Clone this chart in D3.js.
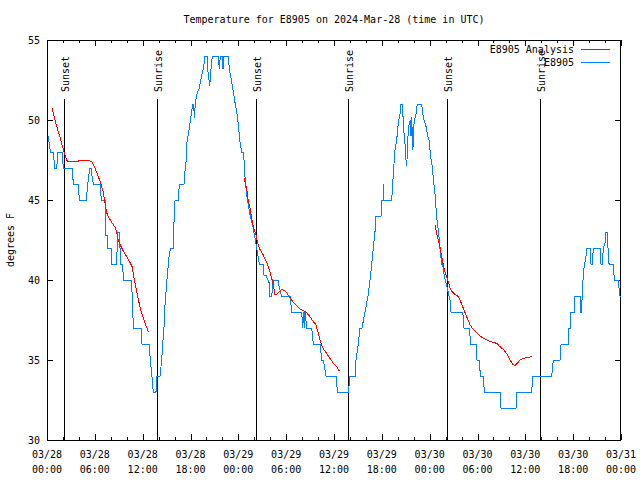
<!DOCTYPE html>
<html><head><meta charset="utf-8">
<script src="https://cdn.jsdelivr.net/npm/d3@7"></script>
<style>
body{margin:0;background:#fff;}
text{font-family:"DejaVu Sans Mono","Liberation Mono",monospace;font-size:10px;fill:#000;}
</style></head><body>
<svg id="chart" width="640" height="480"></svg>
<script>
// ---- data (hours since 03/28 00:00 UTC) ----
const obsHours = [0.16,0.34,0.46,0.84,0.92,1.22,1.38,1.92,2.04,3.17,3.30,3.93,4.05,4.93,5.11,5.36,5.61,5.64,5.81,6.65,6.81,7.28,7.40,7.56,7.65,8.03,8.12,8.69,8.78,8.91,9.03,9.16,9.28,9.45,9.62,10.54,10.70,10.83,11.79,11.92,12.79,12.96,13.13,13.33,13.67,13.80,14.17,14.39,14.51,14.71,14.80,15.09,15.34,15.52,15.81,15.93,16.06,16.47,16.60,17.19,17.31,17.44,17.56,17.94,18.28,18.40,18.48,18.60,18.78,19.10,19.41,19.61,19.82,20.07,20.20,20.41,20.57,20.74,21.49,21.61,21.74,21.95,22.08,22.20,22.74,22.87,23.08,23.29,23.58,23.80,24.00,24.21,24.42,24.62,24.71,24.84,25.05,25.25,25.46,25.80,26.09,26.30,26.63,27.13,27.22,27.47,27.89,27.97,28.19,28.39,29.01,29.14,29.44,30.48,30.70,31.95,32.08,32.15,32.28,32.36,32.58,33.20,33.41,34.25,34.46,34.66,35.00,36.25,36.44,37.80,38.01,38.64,38.76,39.05,39.26,39.51,39.89,40.27,40.52,40.73,40.93,41.14,41.27,41.90,41.99,42.15,42.19,42.27,43.24,43.36,43.53,43.65,43.87,44.07,44.28,44.41,44.53,44.66,44.78,44.91,45.03,45.12,45.20,45.32,45.45,45.57,45.66,45.75,45.87,45.95,46.04,46.29,46.45,47.00,47.13,47.29,47.54,47.71,47.92,48.13,48.33,48.46,48.67,48.80,48.96,49.09,49.21,49.30,49.51,49.71,49.84,50.05,50.34,50.55,50.68,52.15,52.31,52.97,53.15,53.81,53.94,54.19,54.38,54.69,54.88,56.82,56.95,58.83,58.92,60.80,60.93,63.31,63.51,64.35,64.48,65.39,65.48,65.69,65.73,66.14,66.23,66.86,66.95,67.07,67.15,67.27,67.40,67.58,67.70,68.11,68.24,68.40,68.53,69.37,69.49,69.66,69.78,70.00,70.12,70.25,70.41,70.50,71.04,71.16,71.67,71.75,71.88,72.00];
const obsTemps = [49,48.3,48,48,47,47,48,48,47,47,46,46,45,45,46,47,47,46.5,46,46,45,45,42.8,42.8,42,42,41,41,41.7,43,43,42,41,41,40,40,39,37,37,36,36,35,34.2,33,33,34,34,35,36,37.3,38.4,40.3,41.6,42,42,43.6,45,45,46,46,46.8,47.4,48.6,49.8,51,51,50.1,51,51.6,52,52.8,53.2,54,54,53,52.1,53.2,54,54,53.2,54,54,53.2,54,54,53.2,52.6,52,51.1,50.5,49.7,48.6,48,48,47.5,46.4,45.3,44.7,44.1,43.4,42.6,42,41,41,40.3,40.3,39.8,39,39,40,40,39.5,39,39,38,38,37,38,37,38,37,37,36,36,35,35,34,34,33,33,34,34,35,36,37,37,38,39,40,41,42,43,44,44,45,45,46,45,45,46,47.3,48.1,48.8,49.8,50.4,51,51,50.2,49.2,48.5,47.5,47.1,48,49.4,49.8,50,49,50.2,48.1,48.5,49.8,50.4,51,51,50.4,50,49.6,49.1,48.75,47.7,47.1,46.3,45.4,44.5,43.5,43.1,42.5,41.9,41,40.8,40.2,39.8,39.2,38.75,38,38,37,37,36,36,35,35,34,34,33,33,32,32,33,33,34,34,35,35,36,36,37,37,38,38,39,39,38,38,39.5,40.2,41,41.3,42,42,41,41,42,42,41,41,42,42.3,43,43,41.7,41,41,40,40,39.5,39,39];

const anaHours1 = [0.66,1.00,1.34,1.63,1.84,2.04,2.26,2.47,2.67,3.73,4.35,5.11,5.61,6.02,6.44,6.77,7.06,7.28,7.49,7.69,8.12,8.53,8.74,8.94,9.28,9.57,10.00,10.41,10.70,10.88,11.13,11.38,11.67,11.95,12.29,12.71];
const anaTemps1 = [50.73,50.0,49.4,48.96,48.5,48.2,47.8,47.5,47.4,47.4,47.5,47.5,47.4,47.0,46.46,46.0,45.5,44.8,44.2,43.96,43.6,43.3,43.0,42.5,42.1,41.8,41.46,41.1,40.8,40.2,39.6,38.96,38.3,37.8,37.3,36.77];
const anaHours2 = [24.71,25.05,25.25,25.46,25.68,25.88,26.22,26.38,26.72,27.13,27.56,27.97,28.19,28.39,28.60,28.81,29.14,29.44,29.73,30.07,30.48,30.90,31.32,31.74,32.15,32.58,32.99,33.41,33.74,34.03,34.25,34.46,34.66,35.09,35.50,35.91,36.34,36.67];
const anaTemps2 = [46.35,45.7,44.9,44.5,43.86,43.3,42.8,42.4,41.9,41.56,41.1,40.5,40.1,39.7,39.1,39.1,39.27,39.4,39.35,39.2,38.9,38.6,38.4,38.17,38.1,37.95,37.7,37.4,37.2,36.67,36.25,35.94,35.7,35.4,35.1,34.8,34.6,34.3];
const anaHours3 = [48.67,48.88,49.09,49.30,49.51,49.71,49.93,50.14,50.34,50.55,50.77,51.18,51.59,51.89,52.22,52.65,53.06,53.48,53.90,54.32,54.73,55.16,55.57,55.98,56.41,56.82,57.24,57.66,58.08,58.49,58.71,58.92,59.33,59.75,60.17,60.80];
const anaTemps3 = [43.44,42.9,42.5,42.08,41.46,40.94,40.5,40.2,39.9,39.48,39.3,39.1,38.96,38.65,38.23,37.7,37.2,36.9,36.7,36.5,36.35,36.25,36.15,36.1,36.04,35.83,35.67,35.4,35.0,34.7,34.65,34.75,35.0,35.1,35.15,35.2];

const sunHours = [2.13,13.84,26.22,37.80,50.21,61.88];
const sunLabels = ["Sunset","Sunrise","Sunset","Sunrise","Sunset","Sunrise"];

const xTickHours = [0,6,12,18,24,30,36,42,48,54,60,66,72];
const xTickDates = ["03/28","03/28","03/28","03/28","03/29","03/29","03/29","03/29","03/30","03/30","03/30","03/30","03/31"];
const xTickTimes = ["00:00","06:00","12:00","18:00","00:00","06:00","12:00","18:00","00:00","06:00","12:00","18:00","00:00"];
const yTicks = [30,35,40,45,50,55];
const seriesNames = ["E8905 Analysis","E8905"];
const seriesColors = ["#ff0000","#0080ff"];
const titleText = "Temperature for E8905 on 2024-Mar-28 (time in UTC)";
const yLabelText = "degrees F";

// ---- drawing ----
const svg = d3.select("#chart");
const L=47, R=621, T=40, B=440;
const x = d3.scaleLinear().domain([0,72]).range([L,R]);
const y = d3.scaleLinear().domain([30,55]).range([B,T]);

const g = svg.append("g");

const minorHours = d3.range(0,73,2).filter(h => h%6!==0);
function addAxis(axisGen, tx, ty, ticks, size){
  const a = g.append("g").attr("transform",`translate(${tx},${ty})`)
    .call(axisGen.tickValues(ticks).tickSize(size).tickFormat(""));
  a.select(".domain").remove();
  a.selectAll("line").attr("stroke","#000").attr("shape-rendering","crispEdges");
}
addAxis(d3.axisTop(x), 0, B, xTickHours, 6);
addAxis(d3.axisTop(x), 0, B, minorHours, 3);
addAxis(d3.axisBottom(x), 0, T, xTickHours, 6);
addAxis(d3.axisBottom(x), 0, T, minorHours, 3);
addAxis(d3.axisRight(y), L, 0, yTicks, 6);
addAxis(d3.axisLeft(y), R, 0, yTicks, 6);

g.append("rect").attr("x",L+0.5).attr("y",T+0.5).attr("width",R-L-1).attr("height",B-T)
  .attr("fill","none").attr("stroke","#000").attr("shape-rendering","crispEdges");

g.selectAll(".yl").data(yTicks).join("text")
  .attr("x",L-7).attr("y",d=>y(d)+4).attr("text-anchor","end").text(d=>d);
g.selectAll(".xd").data(xTickHours).join("text")
  .attr("x",d=>x(d)).attr("y",B+18).attr("text-anchor","middle").text((d,i)=>xTickDates[i]);
g.selectAll(".xt").data(xTickHours).join("text")
  .attr("x",d=>x(d)).attr("y",B+33).attr("text-anchor","middle").text((d,i)=>xTickTimes[i]);

svg.append("text").attr("x",(L+R)/2).attr("y",23).attr("text-anchor","middle").text(titleText);
svg.append("text").attr("transform",`translate(14,240) rotate(-90)`).attr("text-anchor","middle").text(yLabelText);

sunHours.forEach((h,i)=>{
  g.append("line").attr("x1",Math.round(x(h))+0.5).attr("x2",Math.round(x(h))+0.5)
    .attr("y1",99).attr("y2",B).attr("stroke","#000").attr("shape-rendering","crispEdges");
  g.append("text").attr("transform",`translate(${x(h)+5},92) rotate(-90)`).text(sunLabels[i]);
});

const line = d3.line().x(d=>x(d[0])).y(d=>y(d[1]));
const obs = d3.zip(obsHours, obsTemps);
const segs = [d3.zip(anaHours1,anaTemps1), d3.zip(anaHours2,anaTemps2), d3.zip(anaHours3,anaTemps3)];
g.append("path").attr("d",line(obs)).attr("fill","none").attr("stroke",seriesColors[1])
  .attr("stroke-width",1).attr("shape-rendering","crispEdges");
segs.forEach(s=>g.append("path").attr("d",line(s)).attr("fill","none").attr("stroke",seriesColors[0])
  .attr("stroke-width",1).attr("shape-rendering","crispEdges"));

const leg = svg.append("g");
seriesNames.forEach((n,i)=>{
  const yy = 49 + i*13;
  leg.append("text").attr("x",574).attr("y",yy+4).attr("text-anchor","end").text(n);
  leg.append("line").attr("x1",581).attr("x2",610).attr("y1",yy+0.5).attr("y2",yy+0.5)
    .attr("stroke",seriesColors[i]).attr("shape-rendering","crispEdges");
});
</script></body></html>
